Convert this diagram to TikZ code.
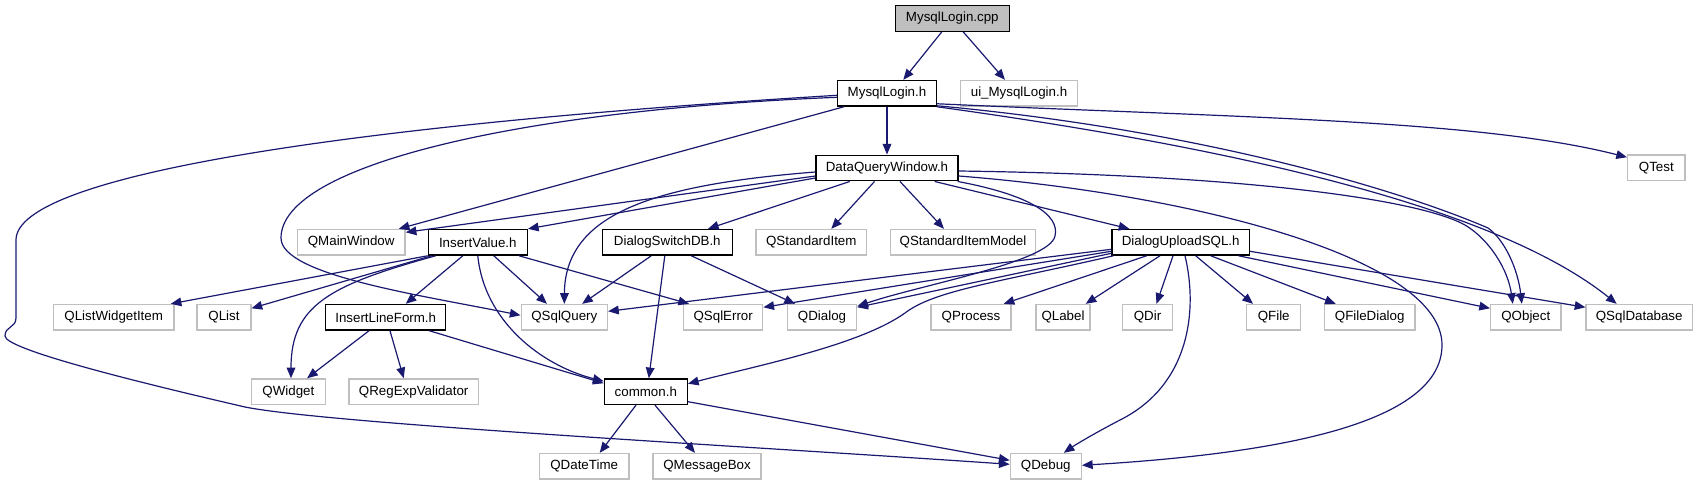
\documentclass[tikz,border=0pt]{standalone}
\usepackage{fontspec}
\setmainfont{Liberation Sans}
\usetikzlibrary{arrows.meta,calc}
\definecolor{edgec}{HTML}{191970}
\definecolor{extc}{HTML}{BFBFBF}
\begin{document}
\begin{tikzpicture}[x=0.75pt,y=-0.75pt,
  box/.style={rectangle,inner sep=0pt,minimum height=19.2pt,font=\fontsize{10}{12}\selectfont,fill=white},
  intf/.style={box,draw=black,line width=1pt},
  extf/.style={box,draw=extc,line width=1pt},
  rootf/.style={box,draw=black,fill=extc,line width=1pt},
  dep/.style={draw=edgec,line width=0.9pt,-{Triangle[length=8pt,width=6.5pt]}}]
\useasboundingbox (0,0) rectangle (1698,485);
% nodes
\node[rootf,minimum width=85.5pt] (cpp) at (952.3,18.5) {MysqlLogin.cpp};
\node[intf,minimum width=74pt] (mlh) at (887,93.3) {MysqlLogin.h};
\node[extf,minimum width=87.5pt] (ui) at (1019,93.3) {ui\_MysqlLogin.h};
\node[intf,minimum width=106.5pt] (dqw) at (887,168) {DataQueryWindow.h};
\node[extf,minimum width=43pt] (qtest) at (1656.3,167.7) {QTest};
\node[extf,minimum width=80.8pt] (qmw) at (351.2,242.3) {QMainWindow};
\node[intf,minimum width=74.25pt] (iv) at (477.8,242.3) {InsertValue.h};
\node[intf,minimum width=97.5pt] (dsdb) at (667.3,242.3) {DialogSwitchDB.h};
\node[extf,minimum width=83pt] (qsi) at (811.3,242.3) {QStandardItem};
\node[extf,minimum width=109pt] (qsim) at (963,242.3) {QStandardItemModel};
\node[intf,minimum width=103pt] (dus) at (1180.7,242.3) {DialogUploadSQL.h};
\node[extf,minimum width=90.5pt] (qlwi) at (113.7,317.3) {QListWidgetItem};
\node[extf,minimum width=40.3pt] (qlist) at (224,317.3) {QList};
\node[intf,minimum width=90pt] (ilf) at (385.7,317.3) {InsertLineForm.h};
\node[extf,minimum width=64.7pt] (qsq) at (564.3,317.3) {QSqlQuery};
\node[extf,minimum width=59.25pt] (qse) at (723.2,317.3) {QSqlError};
\node[extf,minimum width=52pt] (qdlg) at (822,317.3) {QDialog};
\node[extf,minimum width=60pt] (qproc) at (971,317.3) {QProcess};
\node[extf,minimum width=40.5pt] (qlabel) at (1063,317.3) {QLabel};
\node[extf,minimum width=37.3pt] (qdir) at (1147.5,317.3) {QDir};
\node[extf,minimum width=40.5pt] (qfile) at (1273.7,317.3) {QFile};
\node[extf,minimum width=68pt] (qfd) at (1369.7,317.3) {QFileDialog};
\node[extf,minimum width=52.7pt] (qobj) at (1525.8,317.3) {QObject};
\node[extf,minimum width=79.7pt] (qsdb) at (1639.2,317.3) {QSqlDatabase};
\node[extf,minimum width=55.5pt] (qw) at (288.4,391.7) {QWidget};
\node[extf,minimum width=97pt] (qrev) at (413.7,391.7) {QRegExpValidator};
\node[intf,minimum width=62.25pt] (common) at (645.8,391.7) {common.h};
\node[extf,minimum width=67.3pt] (qdt) at (584.2,466.3) {QDateTime};
\node[extf,minimum width=81pt] (qmb) at (707,466.3) {QMessageBox};
\node[extf,minimum width=53.25pt] (qdebug) at (1045.8,466.3) {QDebug};
% edges: MysqlLogin.cpp
\draw[dep] ($(cpp.south)+(-10.6,0)$) -- ($(mlh.north)+(16.3,0)$);
\draw[dep] ($(cpp.south)+(11,0)$) -- ($(ui.north)+(-14,0)$);
% MysqlLogin.h
\draw[dep] (mlh.south) -- (dqw.north);
\draw[dep] ($(mlh.south west)+(7,0)$) -- ($(qmw.north east)+(-7,0)$);
\draw[dep] ($(mlh.west)+(0,4)$) .. controls (520,110) and (281,165) .. (281,238) .. controls (281,275) and (420,295) .. ($(qsq.west)+(0,-2)$);
\draw[dep] ($(mlh.west)+(0,2)$) .. controls (350,125) and (16,175) .. (16,240) -- (16,318) .. controls (16,328) and (5,326) .. (5,336) .. controls (5,350) and (150,385) .. (245,407) .. controls (330,424) and (760,447) .. ($(qdebug.west)+(0,-2)$);
\draw[dep] ($(mlh.south east)+(0,-3)$) .. controls (1250,118) and (1480,120) .. ($(qtest.north west)+(0,3)$);
\draw[dep] ($(mlh.south east)+(0,-1)$) .. controls (1200,130) and (1400,190) .. (1488,228) .. controls (1505,240) and (1518,270) .. ($(qobj.north)+(-4,0)$);
\draw[dep] (mlh.south east) .. controls (1250,150) and (1500,210) .. ($(qsdb.north)+(-22.5,0)$);
% DataQueryWindow.h
\draw[dep] ($(dqw.west)+(0,8)$) -- ($(qmw.east)+(0,-10)$);
\draw[dep] ($(dqw.west)+(0,10)$) -- (iv.north east);
\draw[dep] ($(dqw.west)+(0,4)$) .. controls (650,185) and (565,215) .. (qsq.north);
\draw[dep] ($(dqw.south west)+(34.4,0)$) -- ($(dsdb.north east)+(-25,0)$);
\draw[dep] ($(dqw.south)+(-12.5,0)$) -- ($(qsi.north)+(20,0)$);
\draw[dep] ($(dqw.south)+(13,0)$) -- ($(qsim.north)+(-19,0)$);
\draw[dep] ($(dqw.south east)+(-1,0)$) .. controls (1030,195) and (1060,215) .. (1055,236) .. controls (1050,262) and (920,285) .. ($(qdlg.east)+(0,-11)$);
\draw[dep] ($(dqw.south east)+(-24,0)$) -- ($(dus.north west)+(18,0)$);
\draw[dep] ($(dqw.east)+(0,3)$) .. controls (1250,175) and (1420,200) .. (1465,225) .. controls (1490,240) and (1508,270) .. ($(qobj.north)+(-13,0)$);
\draw[dep] ($(dqw.east)+(0,8)$) .. controls (1200,195) and (1442,260) .. (1442,345) .. controls (1442,430) and (1250,455) .. ($(qdebug.east)+(0,-1)$);
% InsertValue.h
\draw[dep] (iv.south west) -- ($(qlwi.north east)+(-4,0)$);
\draw[dep] ($(iv.south west)+(4,0)$) -- ($(qlist.east)+(0,-9)$);
\draw[dep] ($(iv.south west)+(8,0)$) .. controls (330,285) and (291,305) .. ($(qw.north)+(2.6,0)$);
\draw[dep] ($(iv.south)+(-15,0)$) -- ($(ilf.north)+(20,0)$);
\draw[dep] (iv.south) .. controls (484,320) and (540,365) .. ($(common.north west)+(0,3)$);
\draw[dep] ($(iv.south)+(16,0)$) -- ($(qsq.north)+(-17.3,0)$);
\draw[dep] ($(iv.south east)+(-9,0)$) -- ($(qse.north west)+(6,0)$);
% DialogSwitchDB.h
\draw[dep] ($(dsdb.south)+(-16,0)$) -- ($(qsq.north east)+(-26,0)$);
\draw[dep] ($(dsdb.south)+(-2.5,0)$) -- ($(common.north)+(3,0)$);
\draw[dep] ($(dsdb.south)+(24,0)$) -- ($(qdlg.north)+(-27,0)$);
% DialogUploadSQL.h
\draw[dep] ($(dus.west)+(0,7)$) -- ($(qsq.east)+(0,-6)$);
\draw[dep] ($(dus.west)+(0,9)$) -- ($(qse.east)+(0,-10)$);
\draw[dep] ($(dus.west)+(0,11)$) -- ($(qdlg.east)+(0,-10)$);
\draw[dep] ($(dus.south west)+(2,0)$) .. controls (1000,282) and (935,290) .. (905,313) .. controls (860,345) and (760,365) .. ($(common.east)+(0,-8)$);
\draw[dep] ($(dus.south)+(-34,0)$) -- ($(qproc.north east)+(-8,0)$);
\draw[dep] ($(dus.south)+(-20.7,0)$) -- ($(qlabel.north east)+(-5,0)$);
\draw[dep] ($(dus.south)+(-7.7,0)$) -- ($(qdir.north)+(9,0)$);
\draw[dep] ($(dus.south)+(4.3,0)$) .. controls (1198,310) and (1190,385) .. (1120,420) .. controls (1095,433) and (1075,445) .. ($(qdebug.north)+(18,0)$);
\draw[dep] ($(dus.south)+(15,0)$) -- ($(qfile.north)+(-20.7,0)$);
\draw[dep] ($(dus.south)+(30,0)$) -- ($(qfd.north)+(-34,0)$);
\draw[dep] ($(dus.south east)+(-11.5,0)$) -- ($(qobj.west)+(0,-9)$);
\draw[dep] ($(dus.east)+(0,9)$) -- ($(qsdb.west)+(0,-10)$);
% InsertLineForm.h
\draw[dep] ($(ilf.south)+(-16.7,0)$) -- ($(qw.north east)+(-19,0)$);
\draw[dep] ($(ilf.south)+(4.3,0)$) -- ($(qrev.north)+(-10,0)$);
\draw[dep] ($(ilf.south east)+(-17,0)$) -- ($(common.north west)+(0,5)$);
% common.h
\draw[dep] ($(common.south)+(-9.8,0)$) -- ($(qdt.north)+(15.5,0)$);
\draw[dep] ($(common.south)+(9.2,0)$) -- ($(qmb.north)+(-12,0)$);
\draw[dep] ($(common.east)+(0,10)$) -- ($(qdebug.west)+(0,-6)$);
\end{tikzpicture}
\end{document}
